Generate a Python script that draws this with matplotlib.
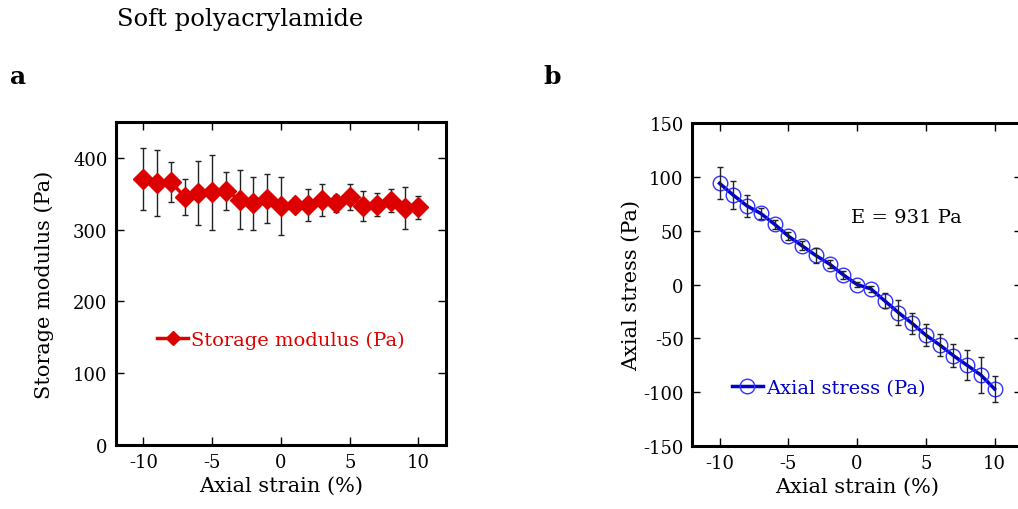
import matplotlib
matplotlib.use("Agg")
import matplotlib.pyplot as plt
import numpy as np

plt.rcParams['font.family'] = ['DejaVu Serif']
plt.rcParams['axes.unicode_minus'] = False

strain = [-10, -9, -8, -7, -6, -5, -4, -3, -2, -1, 0, 1, 2, 3, 4, 5, 6, 7, 8, 9, 10]
storage = [371, 365, 366, 346, 351, 352, 354, 342, 337, 343, 333, 334, 334, 341, 337, 346, 333, 335, 340, 330, 331]
storage_err = [43, 46, 28, 25, 45, 52, 27, 41, 37, 34, 41, 10, 22, 22, 12, 18, 21, 16, 16, 29, 16]
stress = [94, 83, 73, 66, 56, 45, 36, 27, 19, 9, 0, -4, -15, -26, -36, -47, -56, -66, -75, -84, -97]
stress_err = [15, 13, 10, 5, 4, 4, 4, 7, 4, 4, 2, 3, 7, 12, 10, 10, 10, 11, 14, 17, 12]

fig = plt.figure(figsize=(10.18, 5.10), dpi=100)
axa = fig.add_axes([0.1139, 0.1255, 0.3242, 0.6333])
axb = fig.add_axes([0.6798, 0.1235, 0.3242, 0.6333])

red = '#dd0000'
blue = '#0000cc'
fs = 13

for ax in (axa, axb):
    for s in ax.spines.values():
        s.set_linewidth(2.2)
    ax.tick_params(direction='in', top=True, right=True, length=6, width=1,
                   labelsize=fs, pad=6)
    ax.set_xlim(-12, 12)
    ax.set_xticks([-10, -5, 0, 5, 10])
    ax.set_xlabel('Axial strain (%)', fontsize=fs + 2, labelpad=3)

# Panel a
axa.errorbar(strain, storage, yerr=storage_err, fmt='none', ecolor='#222222',
             elinewidth=1, capsize=2.5, capthick=1, zorder=1)
axa.plot(strain, storage, color=red, lw=2.5, marker='D', markersize=10,
         label='Storage modulus (Pa)', zorder=2)
axa.set_ylim(0, 450)
axa.set_yticks([0, 100, 200, 300, 400])
axa.set_ylabel('Storage modulus (Pa)', fontsize=fs + 2, labelpad=14)
axa.legend(loc='center left', bbox_to_anchor=(0.125, 0.325), frameon=False,
           fontsize=fs + 1, labelcolor=red, handlelength=1.6, handletextpad=0.15,
           borderpad=0, borderaxespad=0, markerscale=0.7)

# Panel b
axb.plot(strain, stress, color=blue, lw=2.5, marker='o', markersize=10.5,
         markerfacecolor='none', markeredgecolor='#3333ff', markeredgewidth=1,
         label='Axial stress (Pa)', zorder=2)
axb.errorbar(strain, stress, yerr=stress_err, fmt='none', ecolor='#222222',
             elinewidth=1, capsize=2.5, capthick=1, zorder=3)
axb.set_ylim(-150, 150)
axb.set_yticks([-150, -100, -50, 0, 50, 100, 150])
axb.set_ylabel('Axial stress (Pa)', fontsize=fs + 2, labelpad=2)
axb.text(-0.45, 63, 'E = 931 Pa', fontsize=fs + 1, va='center', ha='left')
axb.legend(loc='center left', bbox_to_anchor=(0.12, 0.18), frameon=False,
           fontsize=fs + 1, labelcolor=blue, handlelength=1.6, handletextpad=0.15,
           borderpad=0, borderaxespad=0)

fig.text(0.115, 0.962, 'Soft polyacrylamide', fontsize=fs + 4.5, va='center', ha='left')
fig.text(0.01, 0.85, 'a', fontsize=fs + 5, fontweight='bold', va='center', ha='left')
fig.text(0.534, 0.85, 'b', fontsize=fs + 5, fontweight='bold', va='center', ha='left')

fig.savefig('out.png', dpi=100)
